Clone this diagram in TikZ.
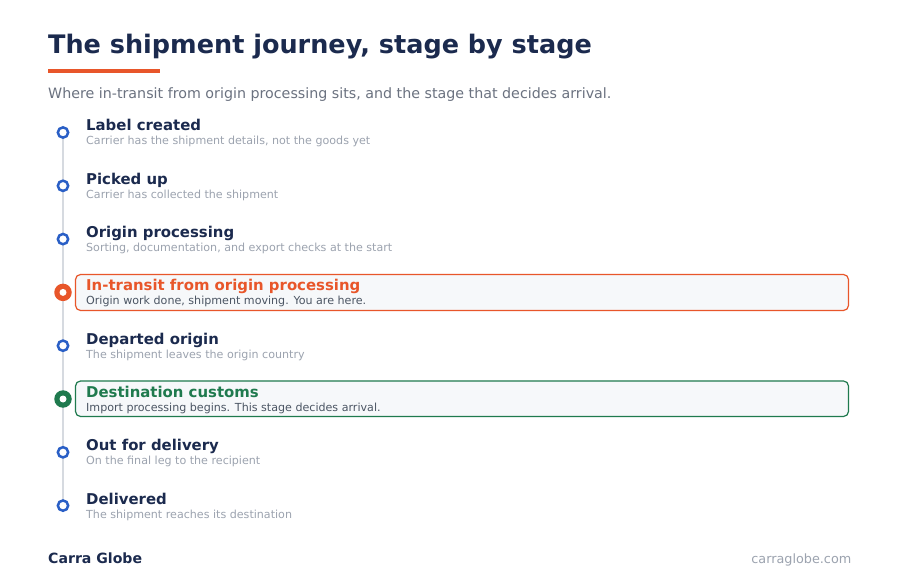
\documentclass[tikz,border=0pt]{standalone}
\usepackage{fontspec}
\setmainfont{DejaVu Sans}
\definecolor{navy}{HTML}{1B2A4E}
\definecolor{accent}{HTML}{E8562A}
\definecolor{okgreen}{HTML}{1F7A4E}
\definecolor{dotblue}{HTML}{2A5FC6}
\definecolor{subgray}{HTML}{6B7280}
\definecolor{descgray}{HTML}{9CA3AF}
\definecolor{descdark}{HTML}{4B5563}
\definecolor{railgray}{HTML}{D6DAE0}
\definecolor{boxfill}{HTML}{F6F8FA}
\tikzset{
  stagetitle/.style={anchor=base west, inner sep=0pt, font=\fontsize{14.9}{17}\selectfont\bfseries, text=navy},
  stagedesc/.style={anchor=base west, inner sep=0pt, font=\fontsize{11.1}{13}\selectfont, text=descgray},
  dot/.style={circle, draw=dotblue, line width=2.5pt, fill=white, minimum size=10.3pt, inner sep=0pt},
  bigdot/.style={circle, fill=#1, minimum size=17.5pt, inner sep=0pt},
  hole/.style={circle, fill=white, minimum size=7pt, inner sep=0pt},
  hibox/.style={draw=#1, line width=1.2pt, fill=boxfill, rounded corners=5pt}
}
\begin{document}
\begin{tikzpicture}[x=1pt,y=-1pt]
\useasboundingbox (0,0) rectangle (900,585);
\fill[white] (0,0) rectangle (900,585);
% title
\node[anchor=base west, inner sep=0pt, font=\fontsize{25.5}{29}\selectfont\bfseries, text=navy] (title) at (48,54) {The shipment journey, stage by stage};
\fill[accent] (48,69.5) rectangle (160,73.5);
\node[anchor=base west, inner sep=0pt, font=\fontsize{14.25}{17}\selectfont, text=subgray] (subtitle) at (48,99) {Where in-transit from origin processing sits, and the stage that decides arrival.};
% highlight boxes
\draw[hibox=accent] (75.5,274.5) rectangle (848.5,310.5);
\draw[hibox=okgreen] (75.5,381) rectangle (848.5,416.5);
% rail
\coordinate (railtop) at (63,132.5);
\coordinate (railbot) at (63,505.5);
\draw[railgray, line width=2pt] (railtop) -- (railbot);
% stages
\node[dot] (d1) at (63,132.5) {};
\node[stagetitle] (t1) at (86,131) {Label created};
\node[stagedesc] (s1) at (86,145) {Carrier has the shipment details, not the goods yet};

\node[dot] (d2) at (63,185.8) {};
\node[stagetitle] (t2) at (86,184.3) {Picked up};
\node[stagedesc] (s2) at (86,198.3) {Carrier has collected the shipment};

\node[dot] (d3) at (63,239.1) {};
\node[stagetitle] (t3) at (86,237.6) {Origin processing};
\node[stagedesc] (s3) at (86,251.6) {Sorting, documentation, and export checks at the start};

\node[bigdot=accent] (d4) at (63,292.4) {};
\node[hole] at (d4) {};
\node[stagetitle, text=accent] (t4) at (86,290.9) {In-transit from origin processing};
\node[stagedesc, text=descdark] (s4) at (86,304.9) {Origin work done, shipment moving. You are here.};

\node[dot] (d5) at (63,345.7) {};
\node[stagetitle] (t5) at (86,344.2) {Departed origin};
\node[stagedesc] (s5) at (86,358.2) {The shipment leaves the origin country};

\node[bigdot=okgreen] (d6) at (63,399) {};
\node[hole] at (d6) {};
\node[stagetitle, text=okgreen] (t6) at (86,397.5) {Destination customs};
\node[stagedesc, text=descdark] (s6) at (86,411.5) {Import processing begins. This stage decides arrival.};

\node[dot] (d7) at (63,452.3) {};
\node[stagetitle] (t7) at (86,450.8) {Out for delivery};
\node[stagedesc] (s7) at (86,464.8) {On the final leg to the recipient};

\node[dot] (d8) at (63,505.6) {};
\node[stagetitle] (t8) at (86,504.1) {Delivered};
\node[stagedesc] (s8) at (86,518.1) {The shipment reaches its destination};
% footer
\node[anchor=base west, inner sep=0pt, font=\fontsize{14.1}{17}\selectfont\bfseries, text=navy] (brand) at (48,563) {Carra Globe};
\node[anchor=base east, inner sep=0pt, font=\fontsize{12.8}{15}\selectfont, text=descgray] (url) at (851.5,563) {carraglobe.com};
\end{tikzpicture}
\end{document}
